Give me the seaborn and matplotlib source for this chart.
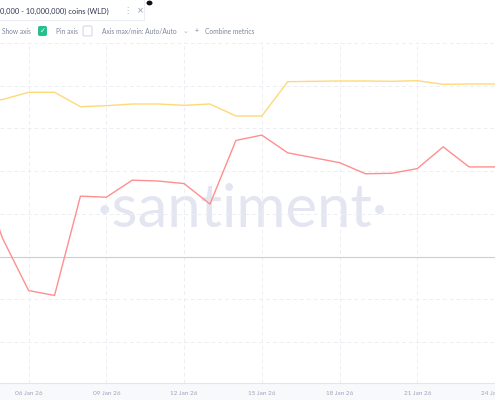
import numpy as np
import pandas as pd
import seaborn as sns
import matplotlib.pyplot as plt
import matplotlib.dates as mdates
from matplotlib.patches import Rectangle, FancyBboxPatch

sns.set_style("white")
plt.rcParams['font.family'] = ['Lato', 'DejaVu Sans']

# daily values, 04 Jan 2026 .. 24 Jan 2026
dates = pd.date_range("2026-01-04", "2026-01-24", freq="D")
supply = [549.6, 550.1, 551.54, 551.54, 548.66, 548.86, 549.2, 549.2, 548.94, 549.2, 546.8,
          546.8, 553.66, 553.74, 553.8, 553.8, 553.74, 553.86, 553.14, 553.2, 553.2]
holders = [4.24, 0.84, -1.59, -1.82, 2.83, 2.78, 3.58, 3.54, 3.42, 2.46, 5.44,
           5.69, 4.86, 4.63, 4.40, 3.88, 3.90, 4.12, 5.14, 4.20, 4.20]
tick_dates = pd.to_datetime(["2026-01-06", "2026-01-09", "2026-01-12", "2026-01-15",
                             "2026-01-18", "2026-01-21", "2026-01-24"])
tick_labels = ["06 Jan 26", "09 Jan 26", "12 Jan 26", "15 Jan 26",
               "18 Jan 26", "21 Jan 26", "24 Jan 26"]

df = pd.DataFrame({"date": dates, "supply": supply, "holders": holders})

W, H = 495, 400
fig = plt.figure(figsize=(W / 100, H / 100), dpi=100)

# bottom band with dates
fig.patches.append(Rectangle((0, 0), 1, 17 / H, transform=fig.transFigure,
                             facecolor="#f8f9fb", edgecolor="none", zorder=-5))

ax = fig.add_axes([0, 17 / H, 1, 341 / H])
ax.set_facecolor("none")
for s in ax.spines.values():
    s.set_visible(False)
ax.spines["bottom"].set_visible(True)
ax.spines["bottom"].set_color("#e3e6ee")
ax.spines["bottom"].set_linewidth(0.8)

sns.lineplot(data=df, x="date", y="holders", ax=ax, color="#ff8f8f", linewidth=1.0)
ax.set_ylim(-5.92, 10.05)
ax.set_yticks(np.arange(-4, 11, 2))
ax.set_yticklabels([])
ax.grid(True, axis="both", linestyle=(0, (4, 3)), color="#eceef3", linewidth=0.7)
ax.axhline(0, color="#c9cdd8", linewidth=0.8, zorder=1)

ax2 = ax.twinx()
sns.lineplot(data=df, x="date", y="supply", ax=ax2, color="#ffd978", linewidth=1.0)
ax2.set_ylim(493.4, 561.6)
ax2.set_yticks([])
for s in ax2.spines.values():
    s.set_visible(False)
ax2.set_ylabel("")
ax.set_ylabel("")
ax.set_xlabel("")
ax2.set_xlabel("")

x0 = mdates.date2num(pd.Timestamp("2026-01-06")) - 29 / 26.27
ax.set_xlim(x0, x0 + W / 26.27)
ax.set_xticks(mdates.date2num(tick_dates))
ax.set_xticklabels(tick_labels)
ax.tick_params(axis="both", left=False, bottom=False, labelbottom=True,
               labelsize=4.6, labelcolor="#9aa3ba", pad=2.5)

# watermark
fig.text(242 / W, 1 - 227 / H, "·santiment·", ha="center", va="baseline",
         fontsize=43, color="#e3e6f1", zorder=-1)

# header card
fig.patches.append(Rectangle((-0.01, 1 - 20 / H), 149 / W, 21 / H, transform=fig.transFigure,
                             facecolor="white", edgecolor="#eceef3", linewidth=0.8, zorder=3))
fig.text(0, 1 - 11 / H, "0,000 - 10,000,000) coins (WLD)", ha="left", va="center",
         fontsize=5.4, color="#2f3550", zorder=4)
fig.text(127 / W, 1 - 11 / H, "⋮", ha="center", va="center", fontsize=6,
         color="#a9b0c3", family="DejaVu Sans", zorder=4)
fig.text(140 / W, 1 - 11 / H, "×", ha="center", va="center", fontsize=6,
         color="#8d95ab", family="DejaVu Sans", zorder=4)
fig.patches.append(plt.Circle((149.5 / W, 1 - 3 / H), 3 / W, transform=fig.transFigure,
                              facecolor="#111111", edgecolor="none", zorder=5))

# controls row
ry = 1 - 31 / H
gray = "#7d859c"
fig.text(2 / W, ry, "Show axis", ha="left", va="center", fontsize=4.8, color=gray)
fig.patches.append(FancyBboxPatch((38 / W, 1 - 36 / H), 9 / W, 10 / H, transform=fig.transFigure,
                                  boxstyle="round,pad=0,rounding_size=0.004",
                                  facecolor="#26c08f", edgecolor="none", zorder=4))
fig.text(42.5 / W, ry, "✓", ha="center", va="center", fontsize=5, color="white",
         family="DejaVu Sans", zorder=5)
fig.text(56 / W, ry, "Pin axis", ha="left", va="center", fontsize=4.8, color=gray)
fig.patches.append(FancyBboxPatch((83 / W, 1 - 36 / H), 9 / W, 10 / H, transform=fig.transFigure,
                                  boxstyle="round,pad=0,rounding_size=0.004",
                                  facecolor="white", edgecolor="#cfd3dd", linewidth=0.7, zorder=4))
fig.text(102 / W, ry, "Axis max/min: Auto/Auto", ha="left", va="center", fontsize=4.8, color=gray)
fig.text(185 / W, ry, "⌄", ha="center", va="center", fontsize=5, color="#a9b0c3",
         family="DejaVu Sans")
fig.text(197 / W, ry, "+", ha="center", va="center", fontsize=5, color=gray)
fig.text(205 / W, ry, "Combine metrics", ha="left", va="center", fontsize=4.8, color=gray)

fig.savefig("out.png", dpi=100)
